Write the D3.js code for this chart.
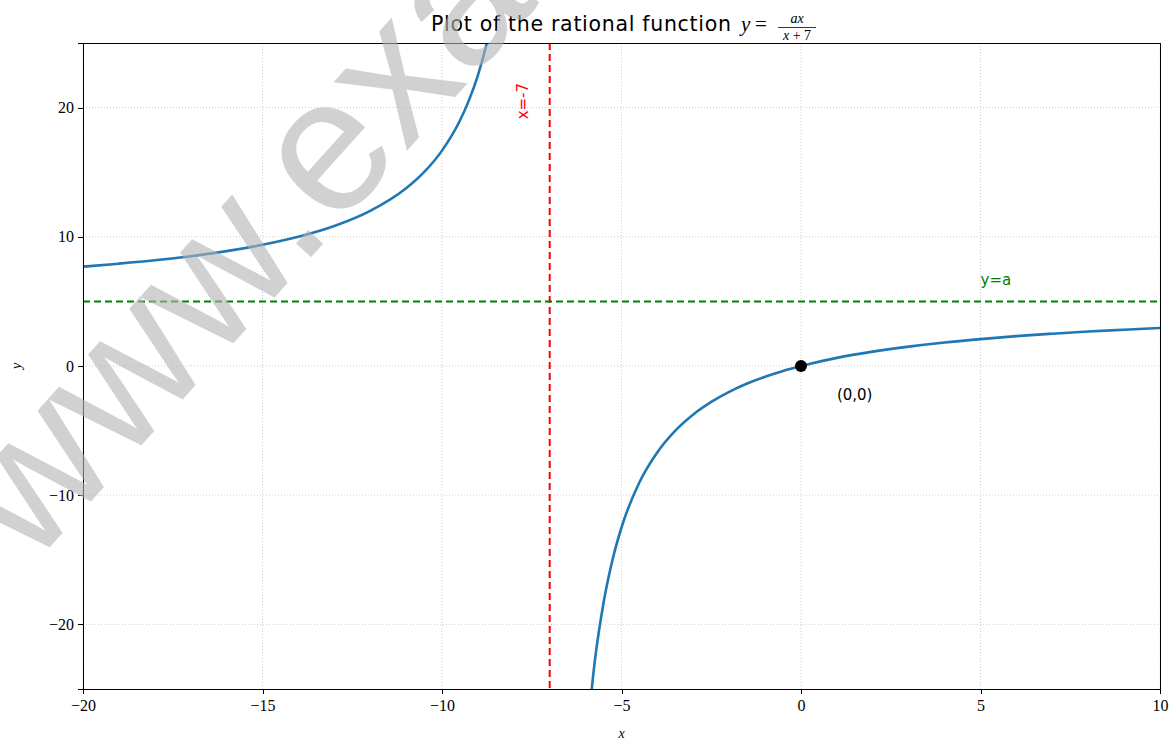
<!DOCTYPE html>
<head>
<meta charset="utf-8">
<title>Rational function</title>
<script src="https://d3js.org/d3.v7.min.js"></script>
<style>
body { margin: 0; background: #fff; }
.axis path, .axis line { stroke: #000; stroke-width: 1; shape-rendering: crispEdges; }
.axis text { fill: #000; font-family: "Liberation Serif", "DejaVu Serif", serif; font-size: 16px; }
.grid line { stroke: #cfcfcf; stroke-width: 1; stroke-dasharray: 1,2; }
.curve { fill: none; stroke: #1f77b4; stroke-width: 2.6; }
.label { font-family: "DejaVu Sans", sans-serif; font-size: 15px; }
</style>
</head>
<body>
<div id="container"></div>
<script>
// curve samples (a = 5)
const leftX  = [-20, -19, -18, -17, -16, -15, -14, -13, -12, -11, -10.5, -10, -9.5, -9.25, -9, -8.75, -8.5];
const leftY  = [7.69, 7.92, 8.18, 8.5, 8.89, 9.38, 10.0, 10.83, 12.0, 13.75, 15.0, 16.67, 19.0, 20.56, 22.5, 25.0, 28.33];
const rightX = [-6, -5.75, -5.5, -5.25, -5, -4.5, -4, -3.5, -3, -2.5, -2, -1.5, -1, -0.5, 0, 1, 2, 3, 4, 5, 6, 7, 8, 9, 10];
const rightY = [-30, -23, -18.33, -15, -12.5, -9, -6.67, -5, -3.75, -2.78, -2, -1.36, -0.83, -0.38, 0, 0.63, 1.11, 1.5, 1.82, 2.08, 2.31, 2.5, 2.67, 2.81, 2.94];
const xTicks = [-20, -15, -10, -5, 0, 5, 10];
const yTicks = [-20, -10, 0, 10, 20];
const asymX = -7;
const asymY = 5;
const origin = [0, 0];

const width = 1173, height = 740;
const pLeft = 83, pRight = 1160, pTop = 43, pBottom = 689;

const svg = d3.select("#container").append("svg")
    .attr("width", width)
    .attr("height", height);

const x = d3.scaleLinear().domain([-20, 10]).range([pLeft, pRight]);
const y = d3.scaleLinear().domain([-25, 25]).range([pBottom, pTop]);

svg.append("defs").append("clipPath").attr("id", "clip")
  .append("rect")
    .attr("x", pLeft).attr("y", pTop)
    .attr("width", pRight - pLeft).attr("height", pBottom - pTop);

//----------------------------GRID------------------------------//
const grid = svg.append("g").attr("class", "grid");
grid.selectAll(".gx").data(xTicks).enter().append("line")
    .attr("x1", d => x(d)).attr("x2", d => x(d))
    .attr("y1", pTop).attr("y2", pBottom);
grid.selectAll(".gy").data(yTicks).enter().append("line")
    .attr("y1", d => y(d)).attr("y2", d => y(d))
    .attr("x1", pLeft).attr("x2", pRight);

//----------------------------CURVE-----------------------------//
const line = d3.line()
    .x(d => x(d[0]))
    .y(d => y(d[1]))
    .curve(d3.curveMonotoneX);

const plot = svg.append("g").attr("clip-path", "url(#clip)");
[d3.zip(leftX, leftY), d3.zip(rightX, rightY)].forEach(function(pts) {
    plot.append("path").attr("class", "curve").attr("d", line(pts));
});

// asymptotes
plot.append("line")
    .attr("x1", x(asymX)).attr("x2", x(asymX))
    .attr("y1", pTop).attr("y2", pBottom)
    .attr("stroke", "#ff0000").attr("stroke-width", 2)
    .attr("stroke-dasharray", "7,4");
plot.append("line")
    .attr("x1", pLeft).attr("x2", pRight)
    .attr("y1", y(asymY)).attr("y2", y(asymY))
    .attr("stroke", "#008000").attr("stroke-width", 2)
    .attr("stroke-dasharray", "7,4");

plot.append("circle")
    .attr("cx", x(origin[0])).attr("cy", y(origin[1]))
    .attr("r", 6).attr("fill", "#000");

//----------------------------LABELS----------------------------//
svg.append("text").attr("class", "label")
    .attr("transform", "translate(" + (x(-7.6)) + "," + (y(20.5)) + ") rotate(-90)")
    .attr("text-anchor", "middle")
    .attr("fill", "#ff0000")
    .text("x=-7");

svg.append("text").attr("class", "label")
    .attr("x", x(5)).attr("y", y(6.3))
    .attr("fill", "#008000")
    .text("y=a");

svg.append("text").attr("class", "label")
    .attr("x", x(1)).attr("y", y(-2.6))
    .attr("fill", "#000")
    .text("(0,0)");

//-----------------------------AXES-----------------------------//
const fmt = d => d < 0 ? "\u2212" + Math.abs(d) : "" + d;

svg.append("g")
    .attr("class", "axis")
    .attr("transform", "translate(0," + pBottom + ")")
    .call(d3.axisBottom(x).tickValues(xTicks).tickFormat(fmt).tickSizeOuter(0).tickSize(5).tickPadding(6));

svg.append("g")
    .attr("class", "axis")
    .attr("transform", "translate(" + pLeft + ",0)")
    .call(d3.axisLeft(y).tickValues(yTicks).tickFormat(fmt).tickSizeOuter(0).tickSize(5).tickPadding(4));

// frame
svg.append("rect")
    .attr("x", pLeft).attr("y", pTop)
    .attr("width", pRight - pLeft).attr("height", pBottom - pTop)
    .attr("fill", "none").attr("stroke", "#000").attr("stroke-width", 1)
    .attr("shape-rendering", "crispEdges");

svg.append("text")
    .attr("x", (pLeft + pRight) / 2).attr("y", 738)
    .attr("text-anchor", "middle")
    .style("font-family", "Liberation Serif, serif").style("font-style", "italic").style("font-size", "14px")
    .text("x");

svg.append("text")
    .attr("transform", "translate(21," + y(0) + ") rotate(-90)")
    .attr("text-anchor", "middle")
    .style("font-family", "Liberation Serif, serif").style("font-style", "italic").style("font-size", "14px")
    .text("y");

//-----------------------------TITLE----------------------------//
const title = svg.append("g");
title.append("text")
    .attr("x", 431).attr("y", 31)
    .style("font-family", "DejaVu Sans, sans-serif").style("font-size", "20.5px")
    .style("letter-spacing", "0.7px")
    .text("Plot of the rational function");
const math = title.append("g").style("font-family", "Liberation Serif, serif").style("font-style", "italic");
math.append("text").attr("x", 741).attr("y", 31).style("font-size", "21px").text("y");
math.append("text").attr("x", 755).attr("y", 31).style("font-size", "21px").style("font-style", "normal").text("=");
math.append("text").attr("x", 797).attr("y", 23).attr("text-anchor", "middle").style("font-size", "14px").text("ax");
math.append("text").attr("x", 797).attr("y", 40).attr("text-anchor", "middle").style("font-size", "14px")
    .html("x<tspan font-style='normal'> + 7</tspan>");
math.append("line").attr("x1", 778).attr("x2", 816).attr("y1", 27.5).attr("y2", 27.5)
    .attr("stroke", "#000").attr("stroke-width", 0.8);

//---------------------------WATERMARK--------------------------//
svg.append("text")
    .attr("transform", "translate(31,568) rotate(-48)")
    .style("font-family", "Liberation Sans, sans-serif").style("font-size", "190px")
    .attr("fill", "#b4b4b4").attr("opacity", 0.6)
    .text("www.example.com");
</script>
</body>
